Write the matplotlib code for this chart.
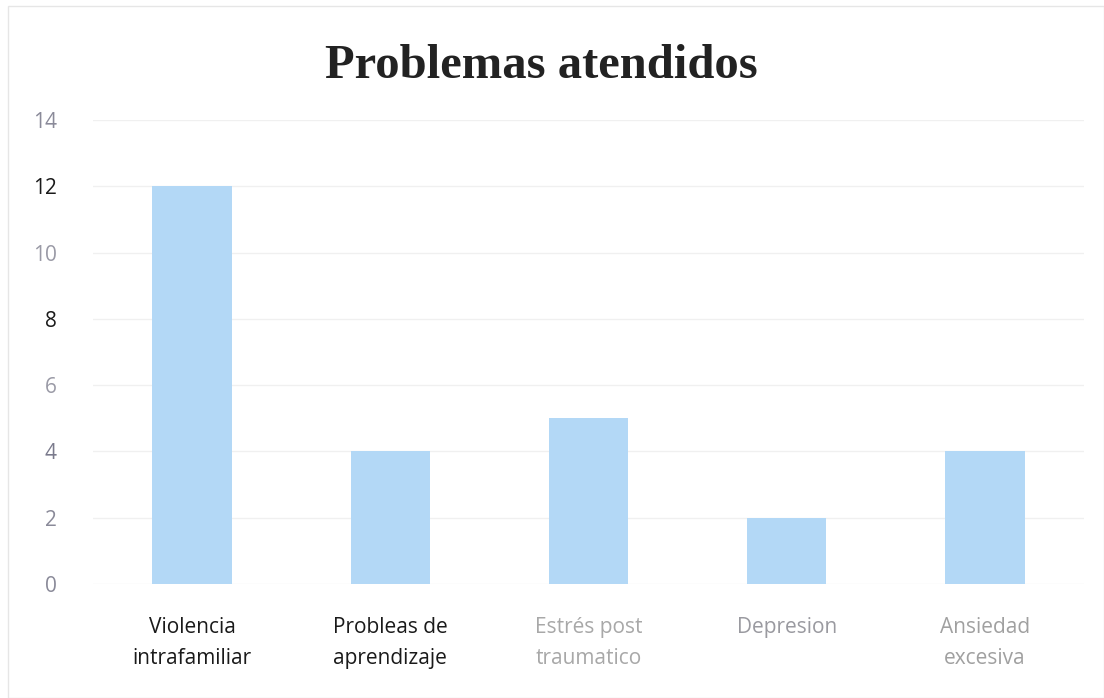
import matplotlib
matplotlib.use("Agg")
import matplotlib.pyplot as plt
from matplotlib.patches import Rectangle

categories = ["Violencia\nintrafamiliar", "Probleas de\naprendizaje", "Estrés post\ntraumatico",
              "Depresion", "Ansiedad\nexcesiva"]
values = [12, 4, 5, 2, 4]
yticks = [0, 2, 4, 6, 8, 10, 12, 14]
title = "Problemas atendidos"

ytick_colors = ["#8a8a99", "#8a8a99", "#7a7a8c", "#9a9aa6", "#1a1a1a", "#9a9aa6", "#1a1a1a", "#8a8a99"]
xtick_colors = ["#1a1a1a", "#1a1a1a", "#a8a8a8", "#9a9aa0", "#a0a0a0"]

fig = plt.figure(figsize=(11.04, 6.98), dpi=100)
ax = fig.add_axes([93/1104, 1 - 584/698, (1084 - 93)/1104, (584 - 120)/698])

ax.bar(range(len(values)), values, width=0.4, color="#b3d8f6", zorder=2)
ax.set_xlim(-0.5, len(values) - 0.5)
ax.set_ylim(0, 14)
ax.set_yticks(yticks)
ax.set_yticklabels([str(t) for t in yticks], fontsize=15, family="Open Sans")
for lab, c in zip(ax.get_yticklabels(), ytick_colors):
    lab.set_color(c)
ax.set_xticks(range(len(values)))
ax.set_xticklabels(categories, fontsize=15, family="Open Sans", linespacing=1.6)
for lab, c in zip(ax.get_xticklabels(), xtick_colors):
    lab.set_color(c)
ax.tick_params(axis="both", length=0)
ax.tick_params(axis="y", pad=26)
ax.tick_params(axis="x", pad=24)
ax.grid(axis="y", color="#f0f0f0", linewidth=1, zorder=0)
for s in ax.spines.values():
    s.set_visible(False)

fig.text(541/1104, 1 - 66/698, title, ha="center", va="center", fontsize=35,
         fontweight="bold", family="Liberation Serif", color="#222222")

fig.patches.append(Rectangle((8/1104, 0), 1 - 8/1104, 1 - 6/698, transform=fig.transFigure,
                             fill=False, edgecolor="#e6e6e6", linewidth=1))

fig.savefig("out.png", dpi=100)
